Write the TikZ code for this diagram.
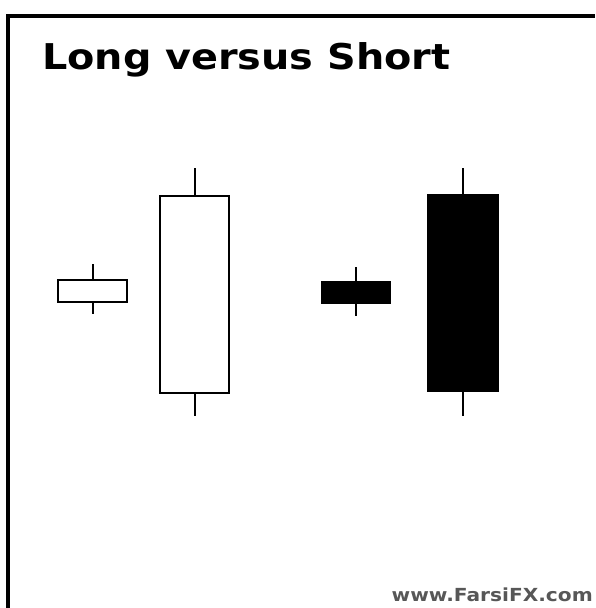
\documentclass[tikz,border=0pt]{standalone}
\usepackage{fontspec}
\setmainfont{DejaVu Sans}
\begin{document}
\begin{tikzpicture}[
				x=1pt,
				y=-1pt,
				line join=miter,
				frameline/.style={line width=3.6pt},
				wick/.style={line width=2pt},
				whitebody/.style={draw, line width=2pt, fill=white, inner sep=0pt},
				blackbody/.style={draw, line width=2pt, fill=black, inner sep=0pt}
			]
			\useasboundingbox (0,0) rectangle (595,608);

			% Frame (top and left only)
			\draw[frameline] (7.8,608) -- (7.8,15.8) -- (595,15.8);

			% Title and watermark
			\node[anchor=base west, inner sep=0pt, xscale=1.12, font=\bfseries\fontsize{35.5}{42}\selectfont] (title) at (42,69) {Long versus Short};
			\node[anchor=base east, inner sep=0pt, xscale=1.12, text=black!66, font=\bfseries\fontsize{18}{22}\selectfont] (site) at (593,601) {www.FarsiFX.com};

			% Short white candle
			\node[whitebody, minimum width=69, minimum height=22] (c1) at (92.5,291) {};
			\coordinate (h1) at (92.5,264);
			\coordinate (l1) at (92.5,314);
			\draw[wick] (h1) -- (c1.north);
			\draw[wick] (c1.south) -- (l1);

			% Long white candle
			\node[whitebody, minimum width=69.5, minimum height=197] (c2) at (194.5,294) {};
			\coordinate (h2) at (194.5,168);
			\coordinate (l2) at (194.5,416);
			\draw[wick] (h2) -- (c2.north);
			\draw[wick] (c2.south) -- (l2);

			% Short black candle
			\node[blackbody, minimum width=68, minimum height=21] (c3) at (356,292.3) {};
			\coordinate (h3) at (356,267);
			\coordinate (l3) at (356,316);
			\draw[wick] (h3) -- (c3.north);
			\draw[wick] (c3.south) -- (l3);

			% Long black candle
			\node[blackbody, minimum width=70, minimum height=196] (c4) at (463,293.2) {};
			\coordinate (h4) at (463,168);
			\coordinate (l4) at (463,416);
			\draw[wick] (h4) -- (c4.north);
			\draw[wick] (c4.south) -- (l4);

		\end{tikzpicture}
\end{document}
